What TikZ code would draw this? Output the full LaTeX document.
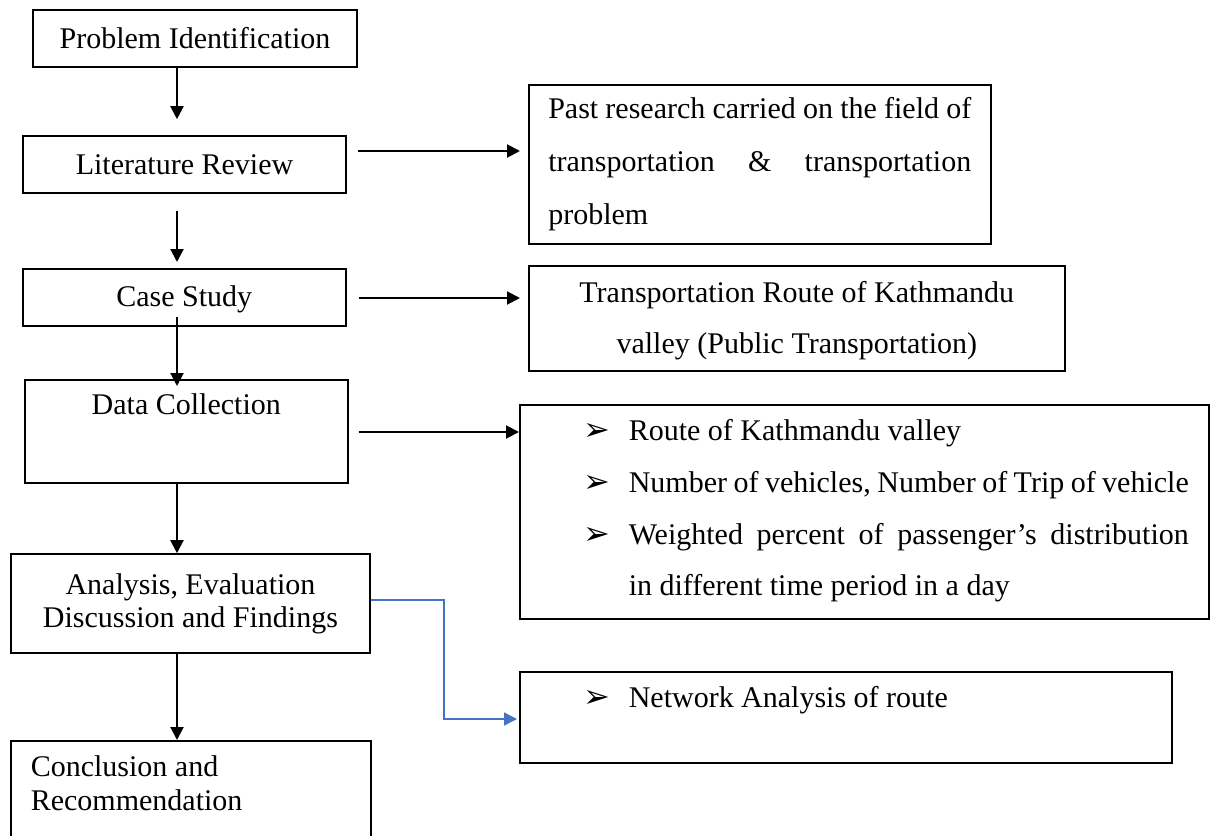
\documentclass[tikz,border=0pt]{standalone}
\usepackage{fontspec}
\setmainfont{Liberation Serif}
\newfontfamily\symfont{DejaVu Sans}
\usetikzlibrary{arrows.meta}

\definecolor{linkblue}{RGB}{68,114,196}
\newcommand{\arrowbullet}{{\symfont\fontsize{16}{16}\selectfont ➢}}
\newcommand{\bitem}[1]{\noindent\hangindent=22.5pt\hangafter=1\makebox[22.5pt][l]{\arrowbullet}#1\par}

\tikzset{
  box/.style={draw, line width=0.8pt, font=\fontsize{15}{16.5}\selectfont},
  arr/.style={-{Triangle[length=6.5pt,width=6.5pt]}, line width=1pt},
}

\begin{document}
\begin{tikzpicture}[x=0.5pt,y=-0.5pt]
        \useasboundingbox (0,0) rectangle (1212,836);
        \coordinate (spine) at (177,0);

        % left column
        \node[box, minimum width=162pt, minimum height=28.5pt] (prob) at (195,38.5) {Problem Identification};
        \node[box, minimum width=161.5pt, minimum height=28.5pt] (lit) at (184.5,164.5) {Literature Review};
        \node[box, anchor=north west, minimum width=161.5pt, inner ysep=0pt,
              text height=19pt, text depth=9.5pt] (case) at (22,268) {Case Study};
        \node[box, anchor=north west, minimum width=161.5pt, inner ysep=0pt,
              text height=17.5pt, text depth=34pt] (data) at (24,379) {Data Collection};
        \node[box, minimum width=179.5pt, minimum height=49.5pt, align=center] (anal) at (190.5,603.5)
            {Analysis, Evaluation\\Discussion and Findings};
        \node[box, anchor=north west, text width=160pt, inner xsep=10pt, inner ysep=0pt, align=justify,
              font=\fontsize{15}{17}\selectfont, text height=18pt, text depth=32pt] (concl) at (10,740)
            {Conclusion and\\Recommendation};

        % right column
        \node[box, anchor=north west, minimum width=231pt, minimum height=79.5pt, text width=211.5pt,
              align=justify, font=\fontsize{15}{26.5}\selectfont] (past) at (528,84)
            {\makebox[\linewidth][s]{Past research carried on the field of}\\
             transportation\hfill\&\hfill transportation\\
             problem};
        \node[box, anchor=north west, minimum width=268pt, text width=248pt, inner ysep=0pt, align=flush center,
              font=\fontsize{15}{25.5}\selectfont, text height=18.5pt, text depth=34pt] (route) at (528,265)
            {Transportation Route of Kathmandu\\valley (Public Transportation)};
        \node[box, anchor=north west, text width=324.5pt, inner xsep=10pt, inner ysep=0pt, align=justify,
              font=\fontsize{15}{25.8}\selectfont, text height=18pt, text depth=89pt] (items) at (519,404)
            {\leftskip=22pt
             \bitem{Route of Kathmandu valley}
             \bitem{Number of vehicles, Number of Trip of vehicle}
             \bitem{Weighted percent of passenger’s distribution\linebreak in different time period in a day}};
        \node[box, anchor=north west, text width=306pt, inner xsep=10pt, inner ysep=0pt, align=justify,
              text height=18pt, text depth=27.5pt] (net) at (519,671)
            {\leftskip=22pt
             \bitem{Network Analysis of route}};

        % down the spine
        \draw[arr, shorten >=8pt] (prob.south -| spine) -- (lit.north -| spine);
        \draw[arr, shorten <=8.5pt, shorten >=3pt] (lit.south -| spine) -- (case.north -| spine);
        \draw[arr, shorten <=-5pt, shorten >=-3.5pt] (case.south -| spine) -- (data.north -| spine);
        \draw[arr] (data.south -| spine) -- (anal.north -| spine);
        \draw[arr] (anal.south -| spine) -- (concl.north -| spine);

        % out to the right
        \draw[arr, shorten <=5.5pt, shorten >=4pt] (lit.east |- 0,151) -- (past.west |- 0,151);
        \draw[arr, shorten <=6pt, shorten >=4pt] (case.east |- 0,298) -- (route.west |- 0,298);
        \draw[arr, shorten <=5pt] (data.east |- 0,432) -- (items.west |- 0,432);
        \draw[arr, linkblue, line width=0.75pt, shorten >=1pt] (anal.east |- 0,600) -| (444,719) -- (net.west |- 0,719);
    \end{tikzpicture}
\end{document}
